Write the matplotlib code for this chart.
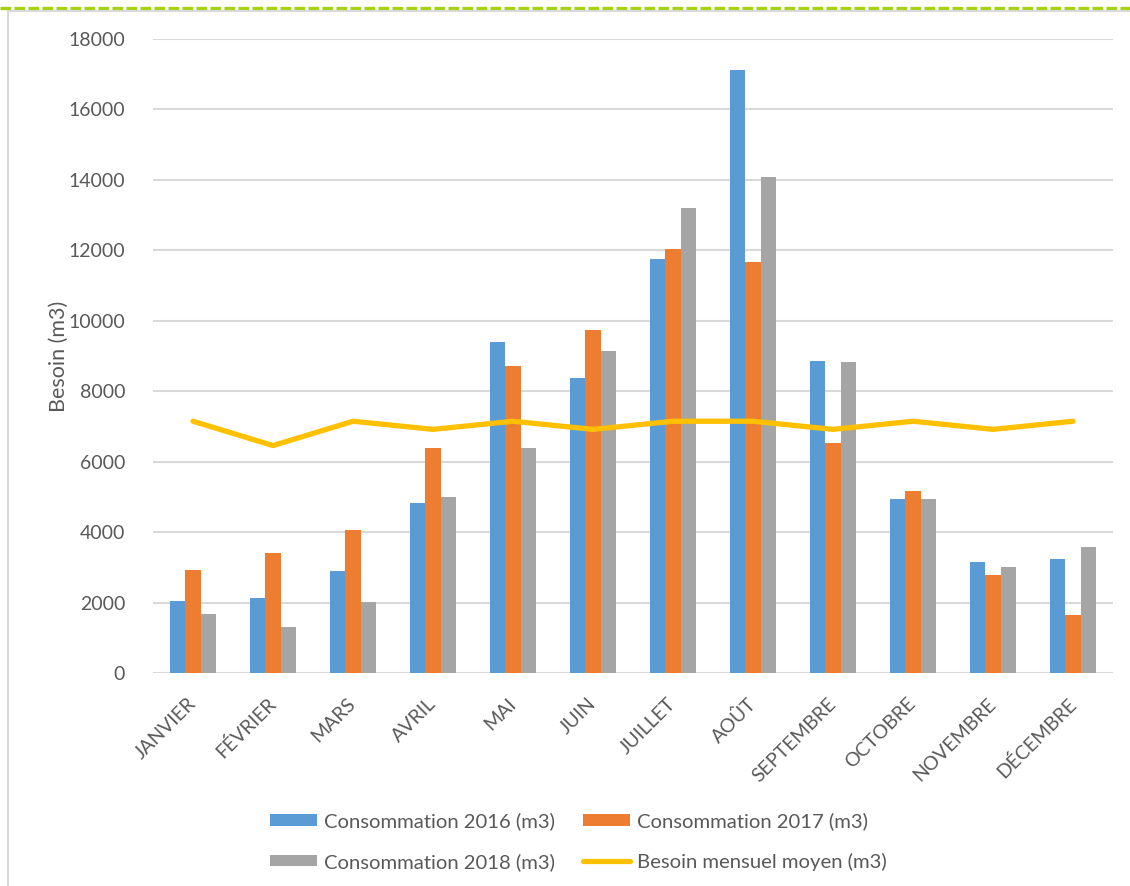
import numpy as np
import matplotlib
matplotlib.use("Agg")
import matplotlib.pyplot as plt
from matplotlib.lines import Line2D

plt.rcParams['font.family'] = ['Lato', 'DejaVu Sans']

# data
mois = ["JANVIER", "FÉVRIER", "MARS", "AVRIL", "MAI", "JUIN", "JUILLET",
        "AOÛT", "SEPTEMBRE", "OCTOBRE", "NOVEMBRE", "DÉCEMBRE"]
conso_2016 = [2060, 2130, 2890, 4820, 9400, 8370, 11740, 17110, 8870, 4950, 3150, 3250]
conso_2017 = [2920, 3420, 4060, 6390, 8720, 9730, 12040, 11670, 6520, 5160, 2790, 1650]
conso_2018 = [1680, 1320, 2020, 4990, 6390, 9130, 13210, 14080, 8830, 4950, 3020, 3590]
besoin_moyen = [7150, 6460, 7150, 6920, 7150, 6920, 7150, 7150, 6920, 7150, 6920, 7150]

y_ticks = list(range(0, 18001, 2000))

c_blue = "#5B9BD5"
c_orange = "#ED7D31"
c_gray = "#A5A5A5"
c_line = "#FFC000"
txt = "#595959"

fig = plt.figure(figsize=(11.3, 8.86), dpi=100)
ax = fig.add_axes([0.1354, 0.2401, 0.8496, 0.7161])

x = np.arange(len(mois))
w = 0.19
b1 = ax.bar(x - w, conso_2016, w, color=c_blue, label="Consommation 2016 (m3)", zorder=3)
b2 = ax.bar(x, conso_2017, w, color=c_orange, label="Consommation 2017 (m3)", zorder=3)
b3 = ax.bar(x + w, conso_2018, w, color=c_gray, label="Consommation 2018 (m3)", zorder=3)
l1, = ax.plot(x, besoin_moyen, color=c_line, lw=3.8, label="Besoin mensuel moyen (m3)",
              zorder=4, solid_joinstyle="round", solid_capstyle="round")

ax.set_xlim(-0.5, len(mois) - 0.5)
ax.set_ylim(0, 18000)
ax.set_yticks(y_ticks)
ax.set_yticklabels([str(v) for v in y_ticks])
ax.yaxis.grid(True, color="#d9d9d9", lw=1.5, zorder=0)
ax.set_axisbelow(True)
for s in ax.spines.values():
    s.set_visible(False)

ax.set_xticks(x)
ax.set_xticklabels(mois, rotation=45, ha="right", va="center", rotation_mode="anchor")
ax.tick_params(axis="both", length=0, colors=txt, labelsize=14)
ax.tick_params(axis="x", pad=20)
ax.tick_params(axis="y", pad=20)
ax.set_ylabel("Besoin (m3)", color=txt, fontsize=15.5, labelpad=0)

leg = fig.legend([b1, b3, b2, l1],
                 [b1.get_label(), b3.get_label(), b2.get_label(), l1.get_label()],
                 ncol=2, loc="center", bbox_to_anchor=(0.512, 0.050),
                 frameon=False, fontsize=14.6, handlelength=2.3, handleheight=0.5,
                 handletextpad=0.35, columnspacing=1.4, labelspacing=1.1)
for t in leg.get_texts():
    t.set_color(txt)

# chart frame decorations
fig.add_artist(Line2D([0, 1], [0.991, 0.991], transform=fig.transFigure,
                      color="#a5d30f", lw=2.4, dashes=(3.2, 1.0)))
fig.add_artist(Line2D([0.0071, 1], [0.9876, 0.9876], transform=fig.transFigure,
                      color="#d9d9d9", lw=1.5))
fig.add_artist(Line2D([0.0071, 0.0071], [0, 0.9876], transform=fig.transFigure,
                      color="#d9d9d9", lw=1.5))

fig.savefig("out.png", dpi=100)
